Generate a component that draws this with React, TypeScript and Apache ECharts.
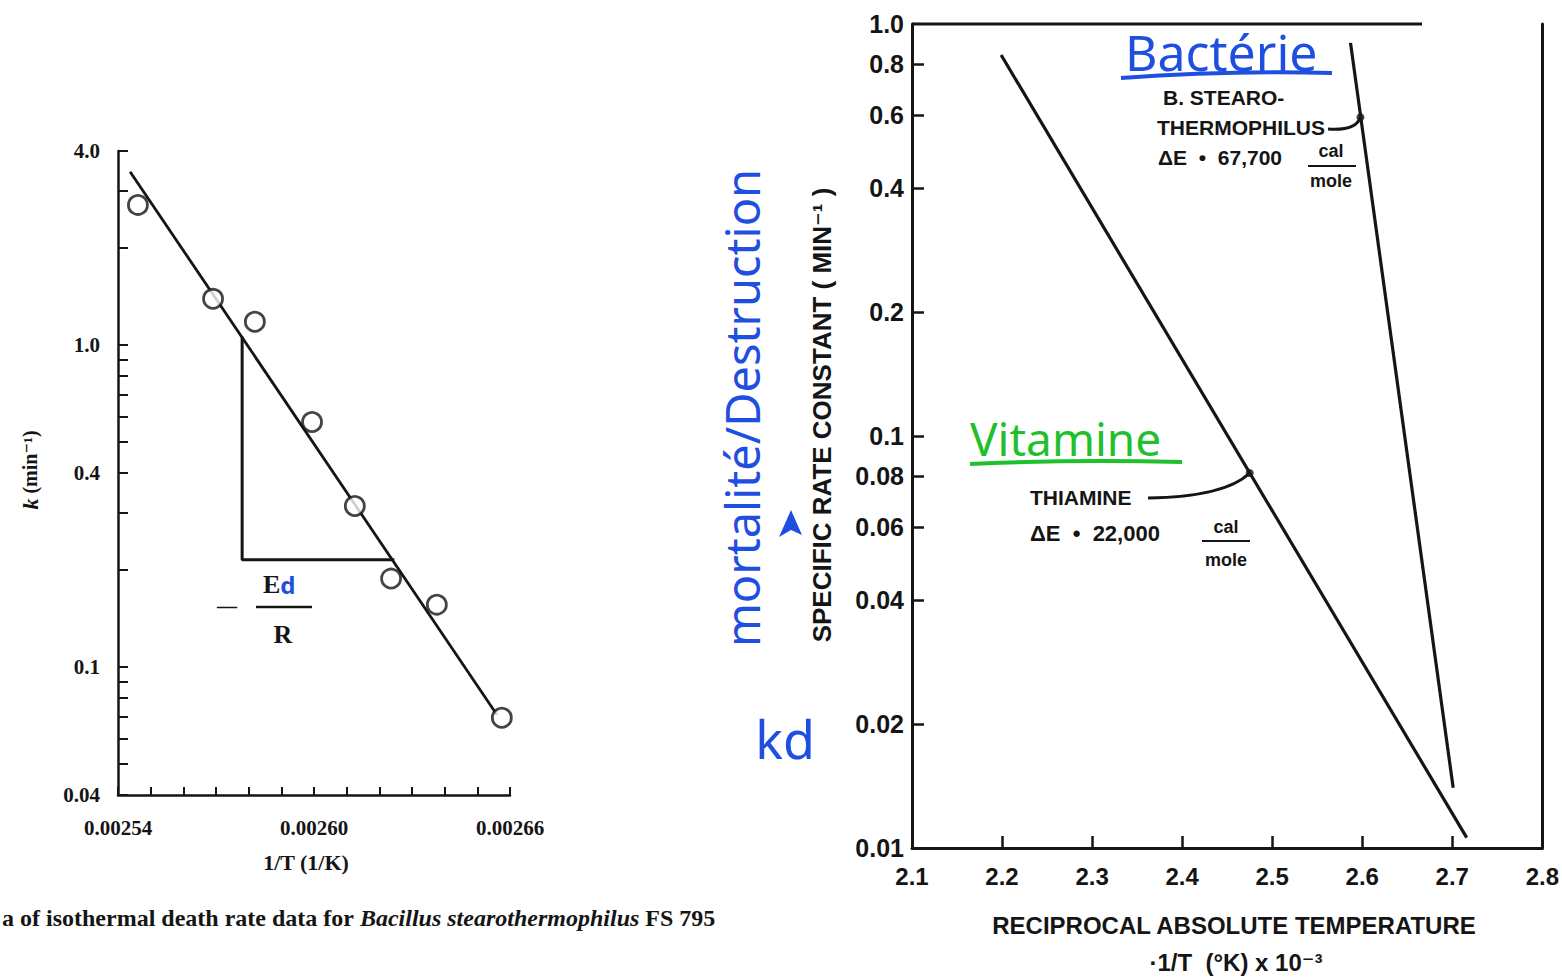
import React, { useEffect, useRef } from 'react';
import * as echarts from 'echarts';

// ---------- Left panel: isothermal death-rate data, Bacillus stearothermophilus FS 795 ----------
const leftInvT = [0.0025461, 0.0025691, 0.0025819, 0.0025994, 0.0026125, 0.0026236, 0.0026376, 0.0026575];
const leftK = [2.72, 1.39, 1.18, 0.576, 0.316, 0.188, 0.156, 0.0695];
const leftFitInvT = [0.0025437, 0.002656];
const leftFitK = [3.45, 0.071];
const slopeTriangleInvT = [0.002578, 0.002578, 0.0026246];
const slopeTriangleK = [1.06, 0.215, 0.215];
const leftXTicks = [0.00254, 0.00255, 0.00256, 0.00257, 0.00258, 0.00259, 0.0026, 0.00261, 0.00262, 0.00263, 0.00264, 0.00265, 0.00266];
const leftXLabels = [0.00254, 0.0026, 0.00266];
const leftYLabels = [0.04, 0.1, 0.4, 1.0, 4.0];
const leftYLabelText = ['0.04', '0.1', '0.4', '1.0', '4.0'];
const leftYTicks = [0.04, 0.05, 0.06, 0.07, 0.08, 0.09, 0.1, 0.2, 0.3, 0.4, 0.5, 0.6, 0.7, 0.8, 0.9, 1, 2, 3, 4];

// ---------- Right panel: specific rate constant vs reciprocal absolute temperature ----------
const thiamineInvT = [2.199, 2.716];
const thiamineK = [0.841, 0.0106];
const bacteriaInvT = [2.587, 2.701];
const bacteriaK = [0.9, 0.014];
const markInvT = [2.475, 2.598]; // thiamine, bacteria
const markK = [0.0813, 0.594];
const rightXLabels = [2.1, 2.2, 2.3, 2.4, 2.5, 2.6, 2.7, 2.8];
const rightXTicks = [2.2, 2.3, 2.4, 2.5, 2.6, 2.7];
const rightYLabels = [0.01, 0.02, 0.04, 0.06, 0.08, 0.1, 0.2, 0.4, 0.6, 0.8, 1.0];
const rightYLabelText = ['0.01', '0.02', '0.04', '0.06', '0.08', '0.1', '0.2', '0.4', '0.6', '0.8', '1.0'];

const L = (v: number) => Math.log10(v);
const INK = '#151515';
const BLUE = '#1f4fe0';
const GREEN = '#22bf2c';
const SERIF = '"Liberation Serif", "DejaVu Serif", serif';
const SANS = '"Liberation Sans", "DejaVu Sans", sans-serif';
const HAND = '"Noto Sans", "DejaVu Sans", sans-serif';

const labelFor = (vals: number[], texts: string[]) => (v: number) => {
  for (let i = 0; i < vals.length; i++) if (Math.abs(L(vals[i]) - v) < 1e-6) return texts[i];
  return '';
};

const zip = (xs: number[], ys: number[]) => xs.map((x, i) => [x, L(ys[i])]);

export default function App() {
  const ref = useRef<HTMLDivElement>(null);
  useEffect(() => {
    const chart = echarts.init(ref.current!, null, { renderer: 'svg' });
    const axisLine = { show: true, onZero: false, lineStyle: { color: INK, width: 2.5 } };
    const axisLineR = { show: true, onZero: false, lineStyle: { color: INK, width: 3 } };
    chart.setOption({
      animation: false,
      backgroundColor: '#fff',
      grid: [
        { left: 118, top: 151, width: 392, height: 644 },
        { left: 912, top: 24, width: 644, height: 824 },
      ],
      xAxis: [
        {
          gridIndex: 0, type: 'value', min: 0.00254, max: 0.00266, position: 'bottom',
          axisLine, splitLine: { show: false },
          axisTick: { show: true, inside: true, length: 8, customValues: leftXTicks, lineStyle: { color: INK, width: 2 } },
          axisLabel: {
            customValues: leftXLabels, formatter: (v: number) => v.toFixed(5), margin: 22,
            fontFamily: SERIF, fontWeight: 'bold', fontSize: 21, color: INK,
          },
        },
        {
          gridIndex: 1, type: 'value', min: 2.1, max: 2.8, position: 'bottom',
          axisLine: axisLineR, splitLine: { show: false },
          axisTick: { show: true, inside: true, length: 12, customValues: rightXTicks, lineStyle: { color: INK, width: 2.5 } },
          axisLabel: {
            customValues: rightXLabels, formatter: (v: number) => v.toFixed(1), margin: 16,
            fontFamily: SANS, fontWeight: 'bold', fontSize: 24, color: INK,
          },
        },
      ],
      yAxis: [
        {
          gridIndex: 0, type: 'value', min: L(0.04), max: L(4), position: 'left',
          axisLine, splitLine: { show: false },
          axisTick: { show: true, inside: true, length: 10, customValues: leftYTicks.map(L), lineStyle: { color: INK, width: 2 } },
          axisLabel: {
            customValues: leftYLabels.map(L), formatter: labelFor(leftYLabels, leftYLabelText), margin: 18,
            fontFamily: SERIF, fontWeight: 'bold', fontSize: 21, color: INK,
          },
        },
        {
          gridIndex: 1, type: 'value', min: -2, max: 0, position: 'left',
          axisLine: axisLineR, splitLine: { show: false },
          axisTick: { show: true, inside: true, length: 12, customValues: rightYLabels.slice(1, -1).map(L), lineStyle: { color: INK, width: 2.5 } },
          axisLabel: {
            customValues: rightYLabels.map(L), formatter: labelFor(rightYLabels, rightYLabelText), margin: 8,
            fontFamily: SANS, fontWeight: 'bold', fontSize: 25, color: INK,
          },
        },
        {
          gridIndex: 1, type: 'value', min: -2, max: 0, position: 'right',
          axisLine: axisLineR, splitLine: { show: false },
          axisTick: { show: false }, axisLabel: { show: false },
        },
      ],
      series: [
        {
          type: 'line', xAxisIndex: 0, yAxisIndex: 0, data: zip(leftFitInvT, leftFitK),
          symbol: 'none', lineStyle: { color: INK, width: 2.8 }, silent: true,
        },
        {
          type: 'line', xAxisIndex: 0, yAxisIndex: 0, data: zip(slopeTriangleInvT, slopeTriangleK),
          symbol: 'none', lineStyle: { color: INK, width: 3 }, silent: true,
        },
        {
          type: 'scatter', xAxisIndex: 0, yAxisIndex: 0, data: zip(leftInvT, leftK),
          symbol: 'circle', symbolSize: 19, z: 5,
          itemStyle: { color: '#fff', borderColor: INK, borderWidth: 2.8 },
        },
        {
          type: 'line', xAxisIndex: 1, yAxisIndex: 1, data: zip(thiamineInvT, thiamineK),
          symbol: 'none', lineStyle: { color: INK, width: 3.2 }, silent: true,
        },
        {
          type: 'line', xAxisIndex: 1, yAxisIndex: 1, data: zip(bacteriaInvT, bacteriaK),
          symbol: 'none', lineStyle: { color: INK, width: 3.2 }, silent: true,
        },
        {
          type: 'scatter', xAxisIndex: 1, yAxisIndex: 1, data: zip(markInvT, markK),
          symbol: 'circle', symbolSize: 8, itemStyle: { color: INK }, z: 5,
        },
      ],
    });

    const pThi = chart.convertToPixel({ seriesIndex: 5 }, [markInvT[0], L(markK[0])]) as number[];
    const pBac = chart.convertToPixel({ seriesIndex: 5 }, [markInvT[1], L(markK[1])]) as number[];

    const txt = (x: number, y: number, text: string, opt: any = {}) => ({
      type: 'text', x, y, rotation: opt.rotation || 0,
      style: {
        text, fill: opt.fill || INK,
        fontFamily: opt.fontFamily || SANS, fontWeight: opt.fontWeight || 'bold',
        fontStyle: opt.fontStyle || 'normal', fontSize: opt.fontSize || 21,
        align: opt.align || 'left', verticalAlign: 'middle', rich: opt.rich,
      },
    });

    chart.setOption({
      graphic: [
        // caption of left figure
        txt(2, 918, 'a of isothermal death rate data for {i|Bacillus stearothermophilus} FS 795', {
          fontFamily: SERIF, fontSize: 24,
          rich: { i: { fontFamily: SERIF, fontStyle: 'italic', fontWeight: 'bold', fontSize: 24, fill: INK } },
        }),
        // left axis titles
        txt(30, 470, '{i|k} (min⁻¹)', {
          fontFamily: SERIF, fontSize: 20, align: 'center', rotation: Math.PI / 2,
          rich: { i: { fontFamily: SERIF, fontStyle: 'italic', fontWeight: 'bold', fontSize: 22, fill: INK } },
        }),
        txt(306, 862, '1/T (1/K)', { fontFamily: SERIF, fontSize: 22, align: 'center' }),
        // slope annotation  -Ed/R
        txt(217, 606, '—', { fontFamily: SERIF, fontSize: 20 }),
        txt(263, 584, '{e|E}{d|d}', {
          fontFamily: SERIF, fontSize: 26,
          rich: {
            e: { fontFamily: SERIF, fontWeight: 'bold', fontSize: 26, fill: INK },
            d: { fontFamily: HAND, fontWeight: 'bold', fontSize: 24, fill: BLUE },
          },
        }),
        { type: 'line', shape: { x1: 256, y1: 607, x2: 312, y2: 607 }, style: { stroke: INK, lineWidth: 2.5 } },
        txt(283, 634, 'R', { fontFamily: SERIF, fontSize: 26, align: 'center' }),
        // right axis titles
        txt(822, 415, 'SPECIFIC RATE CONSTANT ( MIN⁻¹ )', { fontSize: 26, align: 'center', rotation: Math.PI / 2 }),
        txt(1234, 925, 'RECIPROCAL ABSOLUTE TEMPERATURE', { fontSize: 24, align: 'center' }),
        txt(1236, 962, '·1/T  (°K) x 10⁻³', { fontSize: 24, align: 'center' }),
        // top border of right frame
        { type: 'line', shape: { x1: 912, y1: 24, x2: 1422, y2: 24 }, style: { stroke: INK, lineWidth: 3 } },
        // bacteria annotation
        txt(1163, 97, 'B. STEARO-', { fontSize: 21 }),
        txt(1157, 127, 'THERMOPHILUS', { fontSize: 21 }),
        txt(1158, 157, 'ΔE  •  67,700', { fontSize: 21 }),
        txt(1331, 151, 'cal', { fontSize: 18, align: 'center' }),
        { type: 'line', shape: { x1: 1308, y1: 166, x2: 1356, y2: 166 }, style: { stroke: INK, lineWidth: 2 } },
        txt(1331, 181, 'mole', { fontSize: 18, align: 'center' }),
        {
          type: 'bezierCurve',
          shape: { x1: 1328, y1: 129, cpx1: 1356, cpy1: 131, x2: pBac[0], y2: pBac[1] },
          style: { stroke: INK, lineWidth: 3, fill: 'none' },
        },
        // thiamine annotation
        txt(1030, 497, 'THIAMINE', { fontSize: 21 }),
        {
          type: 'bezierCurve',
          shape: { x1: 1148, y1: 498, cpx1: 1225, cpy1: 497, x2: pThi[0], y2: pThi[1] },
          style: { stroke: INK, lineWidth: 3, fill: 'none' },
        },
        txt(1030, 533, 'ΔE  •  22,000', { fontSize: 22 }),
        txt(1226, 527, 'cal', { fontSize: 18, align: 'center' }),
        { type: 'line', shape: { x1: 1202, y1: 541, x2: 1250, y2: 541 }, style: { stroke: INK, lineWidth: 2 } },
        txt(1226, 560, 'mole', { fontSize: 18, align: 'center' }),
        // handwritten notes
        txt(1125, 52, 'Bactérie', { fontFamily: HAND, fontWeight: 'normal', fontSize: 50, fill: BLUE }),
        {
          type: 'bezierCurve',
          shape: { x1: 1121, y1: 78, cpx1: 1230, cpy1: 70, x2: 1332, y2: 73 },
          style: { stroke: BLUE, lineWidth: 4, fill: 'none' },
        },
        txt(970, 438, 'Vitamine', { fontFamily: HAND, fontWeight: 'normal', fontSize: 46, fill: GREEN }),
        {
          type: 'bezierCurve',
          shape: { x1: 970, y1: 464, cpx1: 1075, cpy1: 459, x2: 1182, y2: 462 },
          style: { stroke: GREEN, lineWidth: 4, fill: 'none' },
        },
        txt(742, 408, 'mortalité/Destruction', {
          fontFamily: HAND, fontWeight: 'normal', fontSize: 47, fill: BLUE, align: 'center', rotation: Math.PI / 2,
        }),
        txt(785, 738, 'kd', { fontFamily: HAND, fontWeight: 'normal', fontSize: 52, fill: BLUE, align: 'center' }),
        {
          type: 'polygon',
          shape: { points: [[779, 537], [791, 510], [802, 535], [791, 530]] },
          style: { fill: BLUE },
        },
      ],
    });
    return () => chart.dispose();
  }, []);
  return (
    <div
      ref={ref}
      style={{ position: 'fixed', left: 0, top: 0, width: 1562, height: 980, background: '#fff' }}
    />
  );
}
